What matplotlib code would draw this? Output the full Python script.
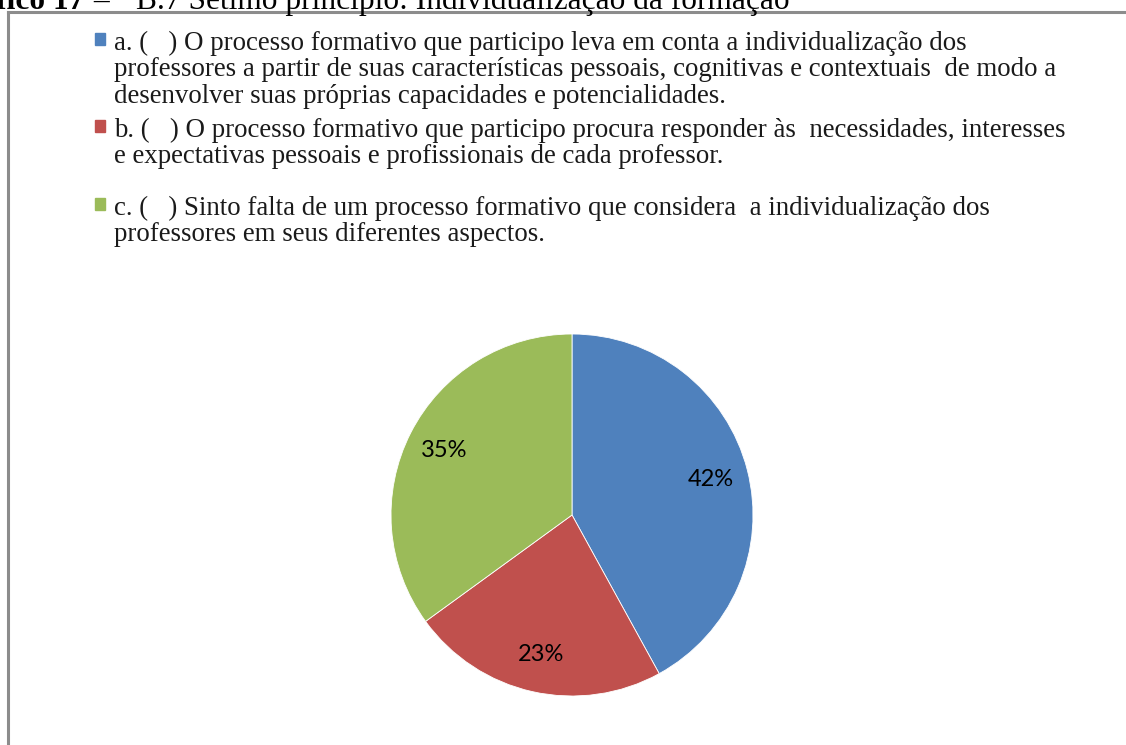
import matplotlib
matplotlib.use('Agg')
import matplotlib.pyplot as plt
from matplotlib.patches import Rectangle
from matplotlib.lines import Line2D

W, H = 1126, 745

labels = [
    ["a. (   ) O processo formativo que participo leva em conta a individualização dos",
     "professores a partir de suas características pessoais, cognitivas e contextuais  de modo a",
     "desenvolver suas próprias capacidades e potencialidades."],
    ["b. (   ) O processo formativo que participo procura responder às  necessidades, interesses",
     "e expectativas pessoais e profissionais de cada professor."],
    ["c. (   ) Sinto falta de um processo formativo que considera  a individualização dos",
     "professores em seus diferentes aspectos."],
]
values = [42, 23, 35]
colors = ['#4F81BD', '#C0504D', '#9BBB59']
title_bold = "Gráfico 17"
title_dash = "–"
title_rest = "B.7 Sétimo princípio: Individualização da formação"


def px(x, y):
    # pixel coords (from top-left) -> figure fraction
    return x / W, 1 - y / H


fig = plt.figure(figsize=(W / 100, H / 100), dpi=100)

# frame around the chart (only left and top edges are visible)
fig.add_artist(Line2D([8 / W, 8 / W], [0, 1 - 12 / H], color='#8c8c8c', lw=2.2))
fig.add_artist(Line2D([8 / W, 1], [1 - 12 / H, 1 - 12 / H], color='#8c8c8c', lw=2.2))

# title, cut off at the top
tkw = dict(va='baseline', family='Liberation Serif', fontsize=22.6)
fig.text(*px(84, 9), title_bold, ha='right', fontweight='bold', **tkw)
fig.text(*px(93, 9), title_dash, ha='left', **tkw)
fig.text(*px(136, 9), title_rest, ha='left', **tkw)

# legend entries
first_baselines = [50, 137, 215]
line_step = 26.3
for lines, col, yb in zip(labels, colors, first_baselines):
    fig.add_artist(Rectangle(px(95, yb - 5), 10 / W, 12 / H, color=col,
                             transform=fig.transFigure))
    for i, ln in enumerate(lines):
        fig.text(*px(114, yb + i * line_step), ln, ha='left', va='baseline',
                 family='Liberation Serif', fontsize=19.4, color='#1a1a1a')

# pie
cx, cy, r = 572, 515, 181
ax = fig.add_axes([(cx - r) / W, 1 - (cy + r) / H, 2 * r / W, 2 * r / H])
wedges, texts, autotexts = ax.pie(values, colors=colors, startangle=90, counterclock=False,
                                  autopct='%d%%', pctdistance=0.79,
                                  wedgeprops=dict(linewidth=0.6, edgecolor='white'),
                                  textprops=dict(fontsize=17, family='Lato', color='black'))
ax.set_xlim(-1, 1)
ax.set_ylim(-1, 1)
ax.set_aspect('equal')

plt.savefig('out.png', dpi=100)
